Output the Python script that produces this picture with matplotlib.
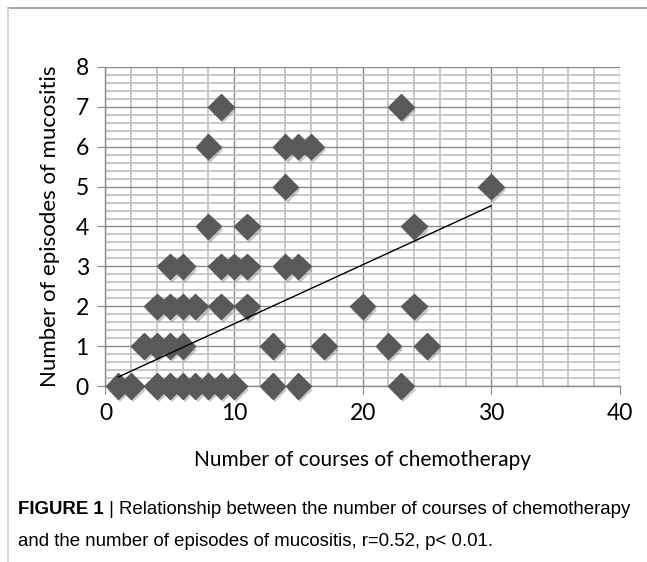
import matplotlib.pyplot as plt
import matplotlib.patheffects as pe
from matplotlib.lines import Line2D
from matplotlib.ticker import MultipleLocator

# courses of chemotherapy (x) and episodes of mucositis (y), one entry per patient
courses = [1, 2, 4, 5, 6, 7, 8, 9, 10, 13, 15, 23,
           3, 4, 5, 6, 13, 17, 22, 25,
           4, 5, 6, 7, 9, 11, 20, 24,
           5, 6, 9, 10, 11, 14, 15,
           8, 11, 24,
           14, 30,
           8, 14, 15, 16,
           9, 23]
episodes = [0] * 12 + [1] * 8 + [2] * 8 + [3] * 7 + [4] * 3 + [5] * 2 + [6] * 4 + [7] * 2

# linear trend line as drawn in the original
trend_x = [1, 30]
trend_slope = 0.148
trend_intercept = 0.08

x_ticks = [0, 10, 20, 30, 40]
y_ticks = [0, 1, 2, 3, 4, 5, 6, 7, 8]

CAPTION_BOLD = "FIGURE 1"
CAPTION_LINE1 = " | Relationship between the number of courses of chemotherapy"
CAPTION_LINE2 = "and the number of episodes of mucositis, r=0.52, p< 0.01."

LABEL_FONT = ["Lato", "DejaVu Sans"]
CAPTION_FONT = ["Liberation Sans", "DejaVu Sans"]

fig = plt.figure(figsize=(6.47, 5.62), dpi=100)

# frame lines of the figure panel
fig.add_artist(Line2D([8 / 647, 1], [1 - 8 / 562, 1 - 8 / 562], color="#9a9a9a", lw=1.2))
fig.add_artist(Line2D([8 / 647, 8 / 647], [0, 1 - 8 / 562], color="#cfcfcf", lw=1.2))

ax = fig.add_axes([0.163, 0.313, 0.795, 0.568])
ax.set_xlim(0, 40)
ax.set_ylim(0, 8)
ax.xaxis.set_major_locator(MultipleLocator(10))
ax.xaxis.set_minor_locator(MultipleLocator(2))
ax.yaxis.set_major_locator(MultipleLocator(1))
ax.yaxis.set_minor_locator(MultipleLocator(0.2))
ax.set_xticks(x_ticks)
ax.set_yticks(y_ticks)

ax.grid(which="minor", color="#c4c4c4", lw=1.3)
ax.grid(which="major", color="#8a8a8a", lw=1.0)
ax.set_axisbelow(True)

for side in ["top", "right"]:
    ax.spines[side].set_visible(False)
for side in ["left", "bottom"]:
    ax.spines[side].set_color("#8a8a8a")
    ax.spines[side].set_linewidth(1.0)

ax.tick_params(which="major", direction="out", length=6, color="#8a8a8a",
               labelsize=16.5, pad=6)
ax.tick_params(which="minor", length=0)
for lbl in ax.get_xticklabels() + ax.get_yticklabels():
    lbl.set_family(LABEL_FONT)

ax.plot(courses, episodes, linestyle="none", marker="D", ms=13,
        mfc="#595959", mec="#595959", clip_on=False, zorder=3,
        path_effects=[pe.SimplePatchShadow(offset=(1.5, -2.5), shadow_rgbFace="#888888", alpha=0.45),
                      pe.Normal()])

trend_y = [trend_intercept + trend_slope * x for x in trend_x]
ax.plot(trend_x, trend_y, color="black", lw=1.0, zorder=4)

ax.set_xlabel("Number of courses of chemotherapy", fontsize=15, family=LABEL_FONT, labelpad=19)
ax.set_ylabel("Number of episodes of mucositis", fontsize=16, family=LABEL_FONT, labelpad=11)

t = fig.text(18 / 647, 1 - 510 / 562, CAPTION_BOLD, fontsize=13.4, weight="bold",
             family=CAPTION_FONT, va="center", ha="left")
fig.canvas.draw()
bb = t.get_window_extent()
fig.text(bb.x1 / fig.bbox.width, 1 - 510 / 562, CAPTION_LINE1, fontsize=13.4,
         family=CAPTION_FONT, va="center", ha="left")
fig.text(18 / 647, 1 - 541 / 562, CAPTION_LINE2, fontsize=13.4,
         family=CAPTION_FONT, va="center", ha="left")

fig.savefig("out.png", dpi=100)
